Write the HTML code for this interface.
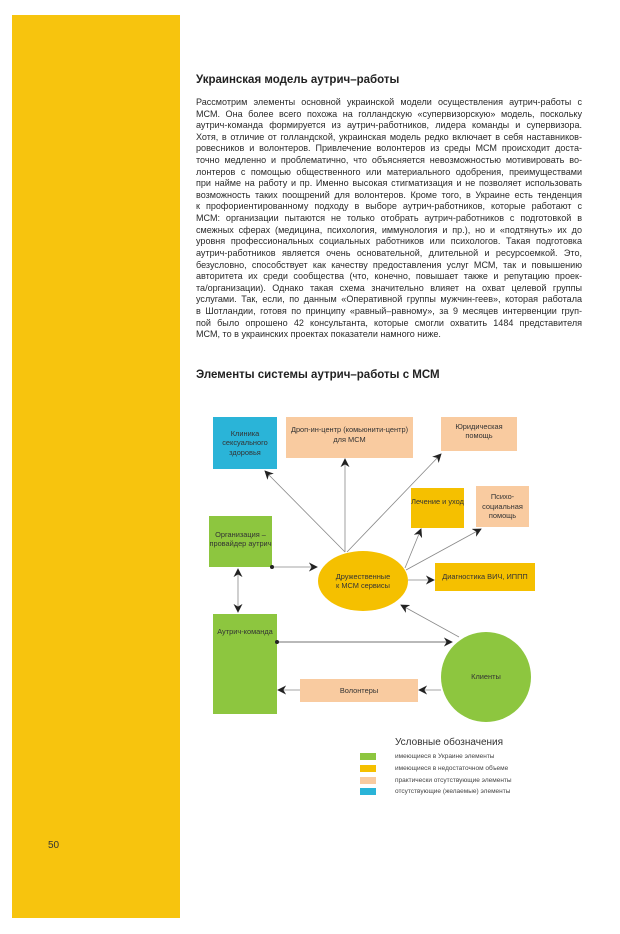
<!DOCTYPE html>
<html><head><meta charset="utf-8"><style>
body{margin:0;width:620px;height:934px;background:#fff;position:relative;overflow:hidden;font-family:"Liberation Sans",sans-serif}
.bar{position:absolute;left:12px;top:15px;width:168px;height:903px;background:#f7c40e}
.h{position:absolute;left:196px;font-weight:bold;font-size:11.5px;color:#222}
.txt{position:absolute;left:196px;top:97px;width:386px;font-size:9.05px;line-height:11.62px;color:#2a2a2a}
.txt div{text-align:justify;text-align-last:justify;white-space:nowrap;overflow:visible;height:11.62px}
.txt div.l{text-align-last:left}
.n{position:absolute;font-size:7.4px;color:#333;text-align:center;display:flex;align-items:center;justify-content:center;line-height:9.5px}
.lg{position:absolute;font-size:6.5px;color:#444;left:395px}
.sw{position:absolute;left:360px;width:16px;height:7px}
</style></head><body>
<div class="bar"></div>
<div style="position:absolute;left:48px;top:840px;font-size:10px;color:#333">50</div>
<div class="h" style="top:74px">Украинская модель аутрич–работы</div>
<div class="txt">
<div>Рассмотрим элементы основной украинской модели осуществления аутрич-работы с</div>
<div>МСМ. Она более всего похожа на голландскую «супервизорскую» модель, поскольку</div>
<div>аутрич-команда формируется из аутрич-работников, лидера команды и супервизора.</div>
<div>Хотя, в отличие от голландской, украинская модель редко включает в себя наставников-</div>
<div>ровесников и волонтеров. Привлечение волонтеров из среды МСМ происходит доста-</div>
<div>точно медленно и проблематично, что объясняется невозможностью мотивировать во-</div>
<div>лонтеров с помощью общественного или материального одобрения, преимуществами</div>
<div>при найме на работу и пр. Именно высокая стигматизация и не позволяет использовать</div>
<div>возможность таких поощрений для волонтеров. Кроме того, в Украине есть тенденция</div>
<div>к профориентированному подходу в выборе аутрич-работников, которые работают с</div>
<div>МСМ: организации пытаются не только отобрать аутрич-работников с подготовкой в</div>
<div>смежных сферах (медицина, психология, иммунология и пр.), но и «подтянуть» их до</div>
<div>уровня профессиональных социальных работников или психологов. Такая подготовка</div>
<div>аутрич-работников является очень основательной, длительной и ресурсоемкой. Это,</div>
<div>безусловно, способствует как качеству предоставления услуг МСМ, так и повышению</div>
<div>авторитета их среди сообщества (что, конечно, повышает также и репутацию проек-</div>
<div>та/организации). Однако такая схема значительно влияет на охват целевой группы</div>
<div>услугами. Так, если, по данным «Оперативной группы мужчин-геев», которая работала</div>
<div>в Шотландии, готовя по принципу «равный–равному», за 9 месяцев интервенции груп-</div>
<div>пой было опрошено 42 консультанта, которые смогли охватить 1484 представителя</div>
<div class="l">МСМ, то в украинских проектах показатели намного ниже.</div>
</div>
<div class="h" style="top:369px">Элементы системы аутрич–работы с МСМ</div>

<svg style="position:absolute;left:0;top:0" width="620" height="934">
<defs><marker id="a" viewBox="0 0 10 10" refX="9" refY="5" markerWidth="9" markerHeight="9" markerUnits="userSpaceOnUse" orient="auto-start-reverse"><path d="M0,0 L10,5 L0,10 L3,5z" fill="#222"/></marker></defs>
<rect x="213" y="417" width="64" height="52" fill="#2ab4d8"/>
<rect x="286" y="417" width="127" height="41" fill="#f9cba0"/>
<rect x="441" y="417" width="76" height="34" fill="#f9cba0"/>
<rect x="411" y="488" width="53" height="40" fill="#f5c000"/>
<rect x="476" y="486" width="53" height="41" fill="#f9cba0"/>
<rect x="209" y="516" width="63" height="51" fill="#8dc63f"/>
<rect x="435" y="563" width="100" height="28" fill="#f5c000"/>
<rect x="213" y="614" width="64" height="100" fill="#8dc63f"/>
<rect x="300" y="679" width="118" height="23" fill="#f9cba0"/>
<ellipse cx="363" cy="581" rx="45" ry="30" fill="#f5c000"/>
<ellipse cx="486" cy="677" rx="45" ry="45" fill="#8dc63f"/>
<g stroke="#888" stroke-width="0.8" fill="none">
<line x1="345" y1="552" x2="265" y2="471" marker-end="url(#a)"/>
<line x1="345" y1="552" x2="345" y2="459" marker-end="url(#a)"/>
<line x1="347" y1="552" x2="441" y2="454" marker-end="url(#a)"/>
<line x1="405" y1="568" x2="421" y2="529" marker-end="url(#a)"/>
<line x1="406" y1="570" x2="481" y2="529" marker-end="url(#a)"/>
<line x1="408" y1="580" x2="434" y2="580" marker-end="url(#a)"/>
<line x1="272" y1="567" x2="317" y2="567" marker-end="url(#a)"/>
<line x1="238" y1="569" x2="238" y2="612" marker-start="url(#a)" marker-end="url(#a)"/>
<line x1="277" y1="642" x2="452" y2="642" stroke="#444" marker-end="url(#a)"/>
<line x1="459" y1="637" x2="401" y2="605" marker-end="url(#a)"/>
<line x1="441" y1="690" x2="419" y2="690" marker-end="url(#a)"/>
<line x1="300" y1="690" x2="278" y2="690" marker-end="url(#a)"/>
</g>
<circle cx="272" cy="567" r="2" fill="#222"/><circle cx="277" cy="642" r="2" fill="#222"/>
</svg>
<div class="n" style="left:213px;top:417px;width:64px;height:52px">Клиника<br>сексуального<br>здоровья</div>
<div class="n" style="left:286px;top:417px;width:127px;height:35px">Дроп-ин-центр (комьюнити-центр)<br>для МСМ</div>
<div class="n" style="left:441px;top:417px;width:76px;height:28px">Юридическая<br>помощь</div>
<div class="n" style="left:411px;top:488px;width:53px;height:28px">Лечение и уход</div>
<div class="n" style="left:476px;top:486px;width:53px;height:41px">Психо-<br>социальная<br>помощь</div>
<div class="n" style="left:209px;top:524px;width:63px;height:30px">Организация –<br>провайдер аутрич</div>
<div class="n" style="left:318px;top:564px;width:90px;height:34px">Дружественные<br>к МСМ сервисы</div>
<div class="n" style="left:435px;top:563px;width:100px;height:28px">Диагностика ВИЧ, ИППП</div>
<div class="n" style="left:213px;top:622px;width:64px;height:20px">Аутрич-команда</div>
<div class="n" style="left:441px;top:662px;width:90px;height:30px">Клиенты</div>
<div class="n" style="left:300px;top:679px;width:118px;height:23px">Волонтеры</div>
<div style="position:absolute;left:395px;top:737px;font-size:10px;color:#333">Условные обозначения</div>
<div class="sw" style="top:753px;background:#8dc63f"></div>
<div class="sw" style="top:765px;background:#f5c000"></div>
<div class="sw" style="top:777px;background:#f9cba0"></div>
<div class="sw" style="top:788px;background:#2ab4d8"></div>
<div class="lg" style="top:753px">имеющиеся в Украине элементы</div>
<div class="lg" style="top:765px">имеющиеся в недостаточном объеме</div>
<div class="lg" style="top:777px">практически отсутствующие элементы</div>
<div class="lg" style="top:788px">отсутствующие (желаемые) элементы</div>
</body></html>
